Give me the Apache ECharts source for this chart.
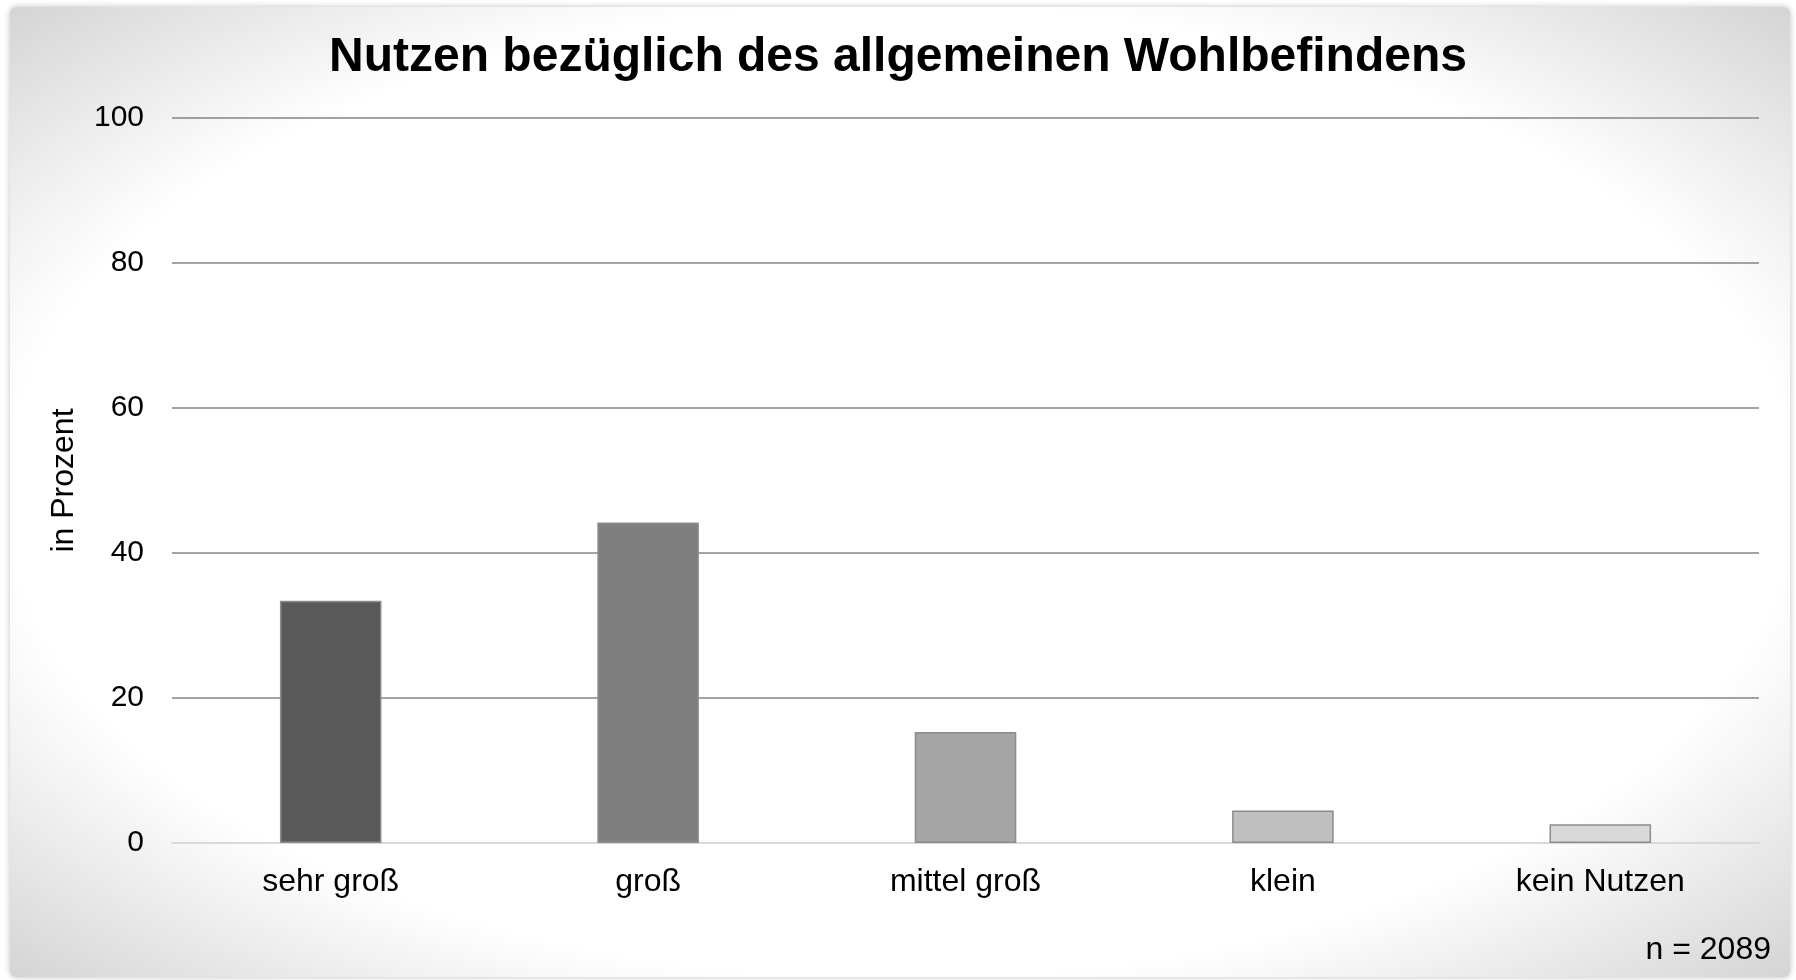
<!DOCTYPE html>
<html>
<head>
    <meta charset="utf-8" />
    <title>Nutzen bezüglich des allgemeinen Wohlbefindens</title>
    <script src="https://cdn.jsdelivr.net/npm/echarts@6/dist/echarts.min.js"></script>
    <style>
        html, body { margin: 0; padding: 0; background: #fff; }
        #card {
            position: absolute; left: 10px; top: 7px; width: 1780px; height: 970px;
            border-radius: 6px;
            background: radial-gradient(ellipse farthest-corner at center, #ffffff 71%, #d4d4d4 100%);
            box-shadow: 0 0 6px rgba(0, 0, 0, 0.25);
        }
        #main { position: absolute; left: 0; top: 0; width: 1796px; height: 980px; }
    </style>
</head>
<body>
    <div id="card"></div>
    <div id="main"></div>
    <script>
        // Daten
        var kategorien = ['sehr groß', 'groß', 'mittel groß', 'klein', 'kein Nutzen'];
        var prozent = [33.4, 44.2, 15.3, 4.5, 2.6];
        var farben = ['#595959', '#7f7f7f', '#a5a5a5', '#bfbfbf', '#d9d9d9'];
        var yTicks = [0, 20, 40, 60, 80, 100];
        var titel = 'Nutzen bezüglich des allgemeinen Wohlbefindens';
        var fallzahl = 'n = 2089';

        var schrift = '"Liberation Sans", Arial, sans-serif';
        var myChart = echarts.init(document.getElementById('main'), null, { renderer: 'canvas' });

        var option = {
            backgroundColor: 'transparent',
            animation: false,
            title: {
                text: titel,
                left: 'center',
                top: 29,
                textStyle: { fontFamily: schrift, fontSize: 48, fontWeight: 'bold', color: '#000' }
            },
            grid: { left: 172, right: 37, top: 118, bottom: 137 },
            xAxis: {
                type: 'category',
                data: kategorien,
                axisTick: { show: false },
                axisLine: { lineStyle: { color: '#d9d9d9', width: 2 } },
                axisLabel: { fontFamily: schrift, fontSize: 32, color: '#000', margin: 23 }
            },
            yAxis: {
                type: 'value',
                min: yTicks[0],
                max: yTicks[yTicks.length - 1],
                interval: 20,
                name: 'in Prozent',
                nameLocation: 'middle',
                nameGap: 92,
                nameTextStyle: { fontFamily: schrift, fontSize: 32, color: '#000' },
                axisLine: { show: false },
                axisTick: { show: false },
                axisLabel: { fontFamily: schrift, fontSize: 30, color: '#000', margin: 28 },
                splitLine: { lineStyle: { color: '#858585', width: 1.5 } }
            },
            graphic: [{
                type: 'text',
                right: 25,
                top: 934,
                style: { text: fallzahl, font: '32px ' + schrift, fill: '#000' }
            }],
            series: [{
                type: 'bar',
                barWidth: '32%',
                data: prozent.map(function (v, i) {
                    return { value: v, itemStyle: { color: farben[i] } };
                }),
                itemStyle: { borderColor: '#8c8c8c', borderWidth: 1.5 }
            }]
        };

        myChart.setOption(option);
    </script>
</body>
</html>
